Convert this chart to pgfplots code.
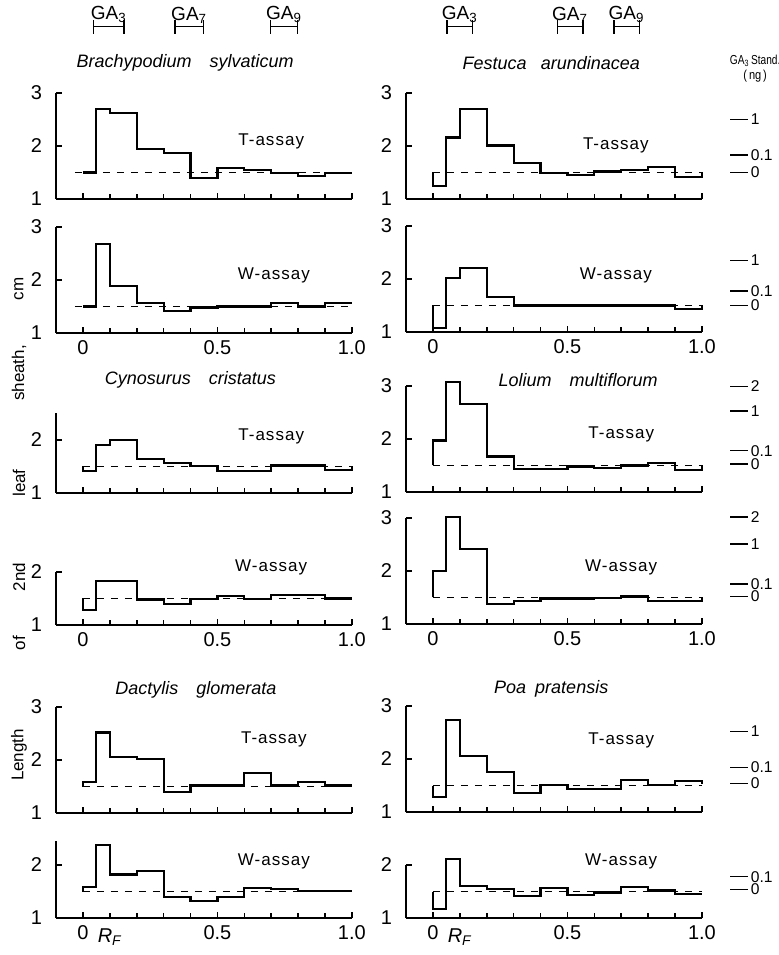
\documentclass[border=0pt]{standalone}
\usepackage{fontspec}
\setmainfont{Liberation Sans}
\setsansfont{Liberation Sans}
\newfontfamily\lsp[LetterSpace=6]{Liberation Sans}
\usepackage{graphicx}
\usepackage{pgfplots}
\pgfplotsset{compat=1.18}

\pgfplotsset{
  panel/.style={
    x=134.5pt, y=26.5pt, xmin=-0.1, xmax=1.0, ymin=1,
    axis x line*=bottom, axis y line*=left,
    axis line style={line width=0.95pt},
    xtick={0,0.5,1}, minor xtick={0.1,0.2,0.3,0.4,0.6,0.7,0.8,0.9},
    tick align=inside, major tick length=3pt, minor tick length=2.5pt,
    every tick/.style={black,line width=0.8pt},
    clip=false, anchor=south west,
    /pgf/number format/assume math mode=true,
    tick label style={font=\fontsize{10}{12}\selectfont},
    yticklabel style={xshift=-3.5pt},
    xticklabels={},
  },
  y3/.style={ymax=3, ytick={1,2,3}, yticklabels={1,2,3}},
  y2/.style={ymax=#1, ytick={1,2}, yticklabels={1,2}},
  lab/.style={xticklabels={0,0.5,1.0}},
  hist/.style={const plot, black, line width=1.1pt},
  base/.style={black, dash pattern=on 3.5pt off 3.5pt, line width=0.85pt},
}
\tikzset{
  std/.style={black, line width=0.8pt},
  ga/.style={black, line width=0.7pt, |-|},
}
\newcommand{\assay}[3]{\node[font=\lsp\fontsize{8.5}{10}\selectfont] at (axis cs:#1,#2) {#3};}
\newcommand{\species}[3]{\node[font=\itshape\fontsize{9}{11}\selectfont] at (axis cs:#1,#2) {#3};}
\newcommand{\galab}[3]{\draw[ga] (axis cs:#1,4.25) -- (axis cs:#2,4.25) node[midway,anchor=south,inner sep=1.5pt,font=\fontsize{9.5}{10}\selectfont] {GA\textsubscript{#3}};}
\newcommand{\stdmark}[2]{\draw[std] (axis cs:1.105,#1) -- (axis cs:1.172,#1) node[anchor=west,inner xsep=1pt,inner ysep=0pt,font=\fontsize{7.8}{8}\selectfont] {#2};}

\begin{document}
\begin{tikzpicture}
\useasboundingbox (0,0) rectangle (389.5pt,477.5pt);

% y label words
\begin{scope}[every node/.style={rotate=90,font=\fontsize{8.5}{10}\selectfont,inner sep=0pt}]
\node at (9.5pt,333pt) {cm};
\node at (9.5pt,291pt) {sheath,};
\node at (9.5pt,236pt) {leaf};
\node at (9.5pt,189pt) {2nd};
\node at (9.5pt,156pt) {of};
\node at (9.5pt,100pt) {Length};
\end{scope}

% ---------------- Brachypodium sylvaticum ----------------
\begin{axis}[panel, y3, at={(28pt,378pt)}]
\addplot[base] coordinates {(-0.03,1.5) (1.0,1.5)};
\addplot[hist] coordinates {(0,1.5) (0.05,2.70) (0.1,2.62) (0.2,1.95) (0.3,1.87) (0.4,1.39) (0.5,1.58) (0.6,1.54) (0.7,1.49) (0.8,1.43) (0.9,1.49) (1.0,1.49)};
\assay{0.70}{2.08}{T-assay}
\species{0.38}{3.57}{Brachypodium\hspace{1em}sylvaticum}
\galab{0.037}{0.156}{3}
\galab{0.34}{0.45}{7}
\galab{0.695}{0.80}{9}
\end{axis}

\begin{axis}[panel, y3, lab, at={(28pt,311pt)}]
\addplot[base] coordinates {(-0.03,1.5) (1.0,1.5)};
\addplot[hist] coordinates {(0,1.5) (0.05,2.68) (0.1,1.89) (0.2,1.57) (0.3,1.42) (0.4,1.48) (0.5,1.5) (0.7,1.57) (0.8,1.5) (0.9,1.56) (1.0,1.56)};
\assay{0.71}{2.09}{W-assay}
\end{axis}

% ---------------- Cynosurus cristatus ----------------
\begin{axis}[panel, y2=2.5, at={(28pt,231pt)}]
\addplot[base] coordinates {(0,1.5) (1.0,1.5)};
\addplot[hist] coordinates {(0,1.5) (0,1.41) (0.05,1.91) (0.1,2.0) (0.2,1.64) (0.3,1.56) (0.4,1.51) (0.5,1.42) (0.7,1.52) (0.9,1.44) (1.0,1.44) (1.0,1.5)};
\assay{0.70}{2.06}{T-assay}
\species{0.40}{3.13}{Cynosurus\hspace{1em}cristatus}
\end{axis}

\begin{axis}[panel, y2=2, lab, at={(28pt,165pt)}]
\addplot[base] coordinates {(0,1.5) (1.0,1.5)};
\addplot[hist] coordinates {(0,1.5) (0,1.28) (0.05,1.83) (0.2,1.48) (0.3,1.4) (0.4,1.49) (0.5,1.55) (0.6,1.49) (0.7,1.57) (0.9,1.5) (1.0,1.5)};
\assay{0.70}{2.08}{W-assay}
\end{axis}

% ---------------- Dactylis glomerata ----------------
\begin{axis}[panel, y3, at={(28pt,71pt)}]
\addplot[base] coordinates {(0,1.5) (1.0,1.5)};
\addplot[hist] coordinates {(0,1.5) (0,1.58) (0.05,2.52) (0.1,2.05) (0.2,2.02) (0.3,1.39) (0.4,1.52) (0.6,1.76) (0.7,1.52) (0.8,1.59) (0.9,1.52) (1.0,1.52)};
\assay{0.71}{2.38}{T-assay}
\species{0.42}{3.32}{Dactylis\hspace{1em}glomerata}
\end{axis}

\begin{axis}[panel, y2=2.45, lab, at={(28pt,18.5pt)}]
\addplot[base] coordinates {(0,1.5) (1.0,1.5)};
\addplot[hist] coordinates {(0,1.5) (0,1.59) (0.05,2.37) (0.1,1.82) (0.2,1.89) (0.3,1.39) (0.4,1.32) (0.5,1.39) (0.6,1.56) (0.7,1.54) (0.8,1.51) (1.0,1.51)};
\assay{0.71}{2.06}{W-assay}
\node[anchor=north,inner sep=0pt,font=\itshape\fontsize{10}{11}\selectfont,yshift=-5pt] at (axis cs:0.1,1) {R\textsubscript{F}};
\end{axis}

% ---------------- Festuca arundinacea ----------------
\begin{axis}[panel, y3, at={(203pt,378pt)}]
\addplot[base] coordinates {(0,1.5) (1.0,1.5)};
\addplot[hist] coordinates {(0,1.5) (0,1.25) (0.05,2.16) (0.1,2.70) (0.2,2.01) (0.3,1.68) (0.4,1.49) (0.5,1.45) (0.6,1.52) (0.7,1.55) (0.8,1.61) (0.9,1.41) (1.0,1.41) (1.0,1.5)};
\assay{0.68}{2.02}{T-assay}
\species{0.44}{3.57}{Festuca\hspace{0.8em}arundinacea}
\galab{0.05}{0.15}{3}
\galab{0.46}{0.56}{7}
\galab{0.67}{0.77}{9}
\node[align=center,font=\fontsize{6.5}{7.5}\selectfont,inner sep=0pt] at (axis cs:1.198,3.46) {\scalebox{0.78}[1]{GA\textsubscript{3}\,Stand.}\\\scalebox{0.85}[1]{(\,ng\,)}};
\stdmark{2.5}{1}
\stdmark{1.83}{0.1}
\stdmark{1.5}{0}
\end{axis}

\begin{axis}[panel, y3, lab, at={(203pt,311.5pt)}]
\addplot[base] coordinates {(0,1.5) (1.0,1.5)};
\addplot[hist] coordinates {(0,1.5) (0,1.08) (0.05,2.02) (0.1,2.21) (0.2,1.66) (0.3,1.5) (0.9,1.43) (1.0,1.43) (1.0,1.5)};
\assay{0.68}{2.07}{W-assay}
\stdmark{2.35}{1}
\stdmark{1.77}{0.1}
\stdmark{1.5}{0}
\end{axis}

% ---------------- Lolium multiflorum ----------------
\begin{axis}[panel, y3, at={(203pt,231.5pt)}]
\addplot[base] coordinates {(0,1.5) (1.0,1.5)};
\addplot[hist] coordinates {(0,1.5) (0,1.97) (0.05,3.08) (0.1,2.66) (0.2,1.67) (0.3,1.43) (0.5,1.48) (0.6,1.45) (0.7,1.5) (0.8,1.55) (0.9,1.42) (1.0,1.42) (1.0,1.5)};
\assay{0.70}{2.08}{T-assay}
\species{0.54}{3.11}{Lolium\hspace{1em}multiflorum}
\stdmark{2.99}{2}
\stdmark{2.53}{1}
\stdmark{1.78}{0.1}
\stdmark{1.53}{0}
\end{axis}

\begin{axis}[panel, y3, lab, at={(203pt,165.5pt)}]
\addplot[base] coordinates {(0,1.5) (1.0,1.5)};
\addplot[hist] coordinates {(0,1.5) (0,2.0) (0.05,3.02) (0.1,2.41) (0.2,1.38) (0.3,1.44) (0.4,1.48) (0.6,1.49) (0.7,1.52) (0.8,1.43) (1.0,1.43) (1.0,1.5)};
\assay{0.70}{2.07}{W-assay}
\stdmark{3.02}{2}
\stdmark{2.51}{1}
\stdmark{1.76}{0.1}
\stdmark{1.52}{0}
\end{axis}

% ---------------- Poa pratensis ----------------
\begin{axis}[panel, y3, at={(203pt,71.5pt)}]
\addplot[base] coordinates {(0,1.5) (1.0,1.5)};
\addplot[hist] coordinates {(0,1.5) (0,1.28) (0.05,2.73) (0.1,2.06) (0.2,1.76) (0.3,1.36) (0.4,1.51) (0.5,1.43) (0.7,1.6) (0.8,1.51) (0.9,1.59) (1.0,1.59) (1.0,1.52)};
\assay{0.70}{2.36}{T-assay}
\species{0.44}{3.32}{Poa\hspace{0.5em}pratensis}
\stdmark{2.52}{1}
\stdmark{1.84}{0.1}
\stdmark{1.54}{0}
\end{axis}

\begin{axis}[panel, y2=2, lab, at={(203pt,18.5pt)}]
\addplot[base] coordinates {(0,1.5) (1.0,1.5)};
\addplot[hist] coordinates {(0,1.5) (0,1.17) (0.05,2.11) (0.1,1.6) (0.2,1.55) (0.3,1.42) (0.4,1.57) (0.5,1.44) (0.6,1.48) (0.7,1.58) (0.8,1.52) (0.9,1.45) (1.0,1.45)};
\assay{0.70}{2.06}{W-assay}
\stdmark{1.78}{0.1}
\stdmark{1.54}{0}
\node[anchor=north,inner sep=0pt,font=\itshape\fontsize{10}{11}\selectfont,yshift=-5pt] at (axis cs:0.1,1) {R\textsubscript{F}};
\end{axis}
\end{tikzpicture}
\end{document}
